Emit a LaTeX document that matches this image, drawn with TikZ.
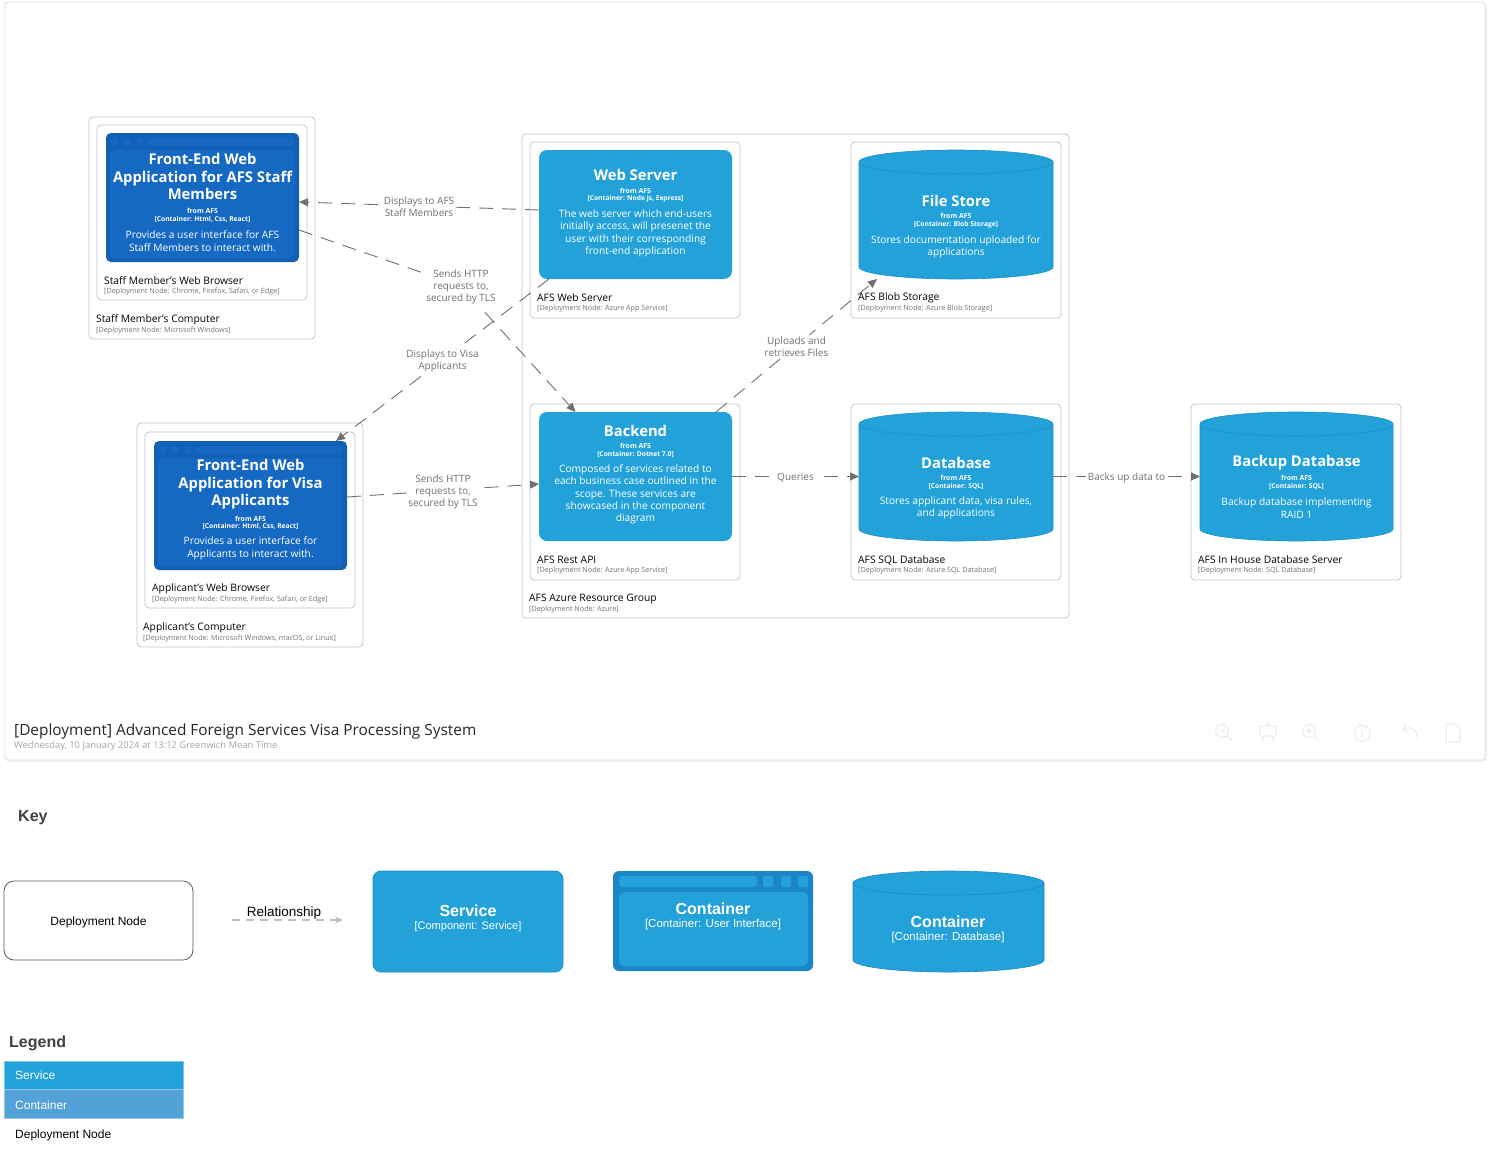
\documentclass[tikz,border=0pt]{standalone}
\usepackage{fontspec}
\setmainfont{Open Sans}
\newfontfamily\keyfont{Liberation Sans}
\usetikzlibrary{arrows.meta,calc}

\definecolor{svc}{HTML}{23A2D9}
\definecolor{svcedge}{HTML}{1C8FC6}
\definecolor{uiouter}{HTML}{1060B6}
\definecolor{uiinner}{HTML}{1669C3}
\definecolor{keyuiouter}{HTML}{1A86C8}
\definecolor{dnline}{HTML}{C6C6C6}
\definecolor{relcol}{HTML}{707070}
\definecolor{metacol}{HTML}{7A7070}
\definecolor{legcont}{HTML}{52A2D8}
\definecolor{faint}{HTML}{EDEDED}

\tikzset{
  dnode/.style={draw=dnline, line width=0.8pt, rounded corners=4pt, fill=white,
    inner sep=0pt, outer sep=0pt, anchor=north west},
  box/.style={inner sep=0pt, outer sep=0pt, anchor=north west},
  svcbox/.style={box, fill=svc, rounded corners=8pt},
  dname/.style={anchor=west, inner sep=0pt, yshift=-1pt, font=\fontsize{10.3}{12}\selectfont, text=black},
  dmeta/.style={anchor=west, inner sep=0pt, yshift=-1pt, font=\fontsize{7.2}{8}\selectfont, text=metacol},
  etitle/.style={inner sep=0pt, yshift=-1pt, font=\fontsize{14.8}{17.5}\selectfont\bfseries, text=white, align=center},
  efrom/.style={inner sep=0pt, yshift=-0.5pt, font=\fontsize{6.9}{8}\selectfont\bfseries, text=white},
  etech/.style={inner sep=0pt, yshift=-0.5pt, font=\fontsize{6.7}{8}\selectfont\bfseries, text=white},
  edesc/.style={inner sep=0pt, yshift=-1pt, font=\fontsize{10.2}{12.4}\selectfont, text=white, align=center},
  rel/.style={draw=relcol, line width=0.9pt, dash pattern=on 14pt off 9pt,
    -{Triangle[length=9pt,width=8pt]}},
  rlabel/.style={fill=white, inner sep=1.5pt, yshift=-1pt, text=relcol,
    font=\fontsize{10}{12}\selectfont, align=center},
  keytxt/.style={inner sep=0pt, yshift=-1.5pt, font=\keyfont\fontsize{12}{14}\selectfont},
}

% browser-style container shape: name, top-left x, top-left y
\newcommand\uishape[3]{%
  \node[box, fill=uiouter, rounded corners=5pt, minimum width=193pt, minimum height=129pt] (#1) at (#2,#3) {};
  \fill[uiinner] ({#2+8.3},{#3+9}) circle[radius=4pt];
  \fill[uiinner] ({#2+21.3},{#3+9}) circle[radius=4pt];
  \fill[uiinner] ({#2+34.3},{#3+9}) circle[radius=4pt];
  \fill[uiinner, rounded corners=4pt] ({#2+42},{#3+5}) rectangle ({#2+188},{#3+13});
  \fill[uiinner, rounded corners=4pt] ({#2+4},{#3+17}) rectangle ({#2+189},{#3+125});
}

% database cylinder: x1, y1, x2, y2, x radius, fill, outline
\newcommand\cylpath[7]{%
  \filldraw[fill=#6, draw=#7, line width=0.6pt] (#1,{#2+12}) -- (#1,{#4-12})
    arc[start angle=180,end angle=360,x radius=#5pt,y radius=12pt]
    -- (#3,{#2+12})
    arc[start angle=0,end angle=180,x radius=#5pt,y radius=12pt] -- cycle;
  \draw[#7, line width=0.6pt] (#1,{#2+12})
    arc[start angle=180,end angle=360,x radius=#5pt,y radius=12pt];
}

\begin{document}
\begin{tikzpicture}[x=1pt,y=-1pt]
\useasboundingbox (0,0) rectangle (1489,1154);
\fill[white] (0,0) rectangle (1489,1154);

% ---------- diagram frame ----------
\fill[black!6, rounded corners=3pt] (6,4) rectangle (1487,762);
\filldraw[fill=white, draw=black!14, line width=0.7pt, rounded corners=3pt] (5,2) rectangle (1485,760);

% ---------- deployment nodes ----------
\node[dnode, minimum width=226pt, minimum height=222pt] (staffpc) at (89,117) {};
\node[dnode, minimum width=210pt, minimum height=175pt] (staffbr) at (97,125) {};
\node[dname] at (96,319) {Staff Member's Computer};
\node[dmeta] at (96,330) {[Deployment Node: Microsoft Windows]};
\node[dname] at (104,280) {Staff Member's Web Browser};
\node[dmeta] at (104,291) {[Deployment Node: Chrome, Firefox, Safari, or Edge]};

\node[dnode, minimum width=226pt, minimum height=224pt] (apppc) at (137,423) {};
\node[dnode, minimum width=210pt, minimum height=176pt] (appbr) at (145,432) {};
\node[dname] at (143,627) {Applicant's Computer};
\node[dmeta] at (143,638) {[Deployment Node: Microsoft Windows, macOS, or Linux]};
\node[dname] at (152,588) {Applicant's Web Browser};
\node[dmeta] at (152,599) {[Deployment Node: Chrome, Firefox, Safari, or Edge]};

\node[dnode, minimum width=547pt, minimum height=484pt] (azure) at (522,134) {};
\node[dname] at (529,598) {AFS Azure Resource Group};
\node[dmeta] at (529,609) {[Deployment Node: Azure]};

\node[dnode, minimum width=210pt, minimum height=176pt] (websrv) at (530,142) {};
\node[dname] at (537,297) {AFS Web Server};
\node[dmeta] at (537,308) {[Deployment Node: Azure App Service]};

\node[dnode, minimum width=210pt, minimum height=176pt] (blob) at (851,142) {};
\node[dname] at (858,297) {AFS Blob Storage};
\node[dmeta] at (858,308) {[Deployment Node: Azure Blob Storage]};

\node[dnode, minimum width=210pt, minimum height=176pt] (restapi) at (530,404) {};
\node[dname] at (537,559) {AFS Rest API};
\node[dmeta] at (537,570) {[Deployment Node: Azure App Service]};

\node[dnode, minimum width=210pt, minimum height=176pt] (sqldb) at (851,404) {};
\node[dname] at (858,559) {AFS SQL Database};
\node[dmeta] at (858,570) {[Deployment Node: Azure SQL Database]};

\node[dnode, minimum width=210pt, minimum height=176pt] (inhouse) at (1191,404) {};
\node[dname] at (1198,559) {AFS In House Database Server};
\node[dmeta] at (1198,570) {[Deployment Node: SQL Database]};

% ---------- containers ----------
\uishape{staffui}{106}{133}
\node[etitle] at (202.5,175.5) {Front-End Web\\Application for AFS Staff\\Members};
\node[efrom] at (202.5,210) {from AFS};
\node[etech] at (202.5,219) {[Container: Html, Css, React]};
\node[edesc] at (202.5,240) {Provides a user interface for AFS\\Staff Members to interact with.};

\uishape{appui}{154}{441}
\node[etitle] at (250.5,483.5) {Front-End Web\\Application for Visa\\Applicants};
\node[efrom] at (250.5,518) {from AFS};
\node[etech] at (250.5,526) {[Container: Html, Css, React]};
\node[edesc] at (250.5,547.5) {Provides a user interface for\\Applicants to interact with.};

\node[svcbox, minimum width=193pt, minimum height=129pt] (web) at (539,150) {};
\node[etitle] at (635.5,174) {Web Server};
\node[efrom] at (635.5,190) {from AFS};
\node[etech] at (635.5,198) {[Container: Node js, Express]};
\node[edesc] at (635.5,232.5) {The web server which end-users\\initially access, will presenet the\\user with their corresponding\\front-end application};

\node[svcbox, minimum width=193pt, minimum height=129pt] (backend) at (539,412) {};
\node[etitle] at (635.5,430) {Backend};
\node[efrom] at (635.5,445) {from AFS};
\node[etech] at (635.5,454) {[Container: Dotnet 7.0]};
\node[edesc] at (635.5,493.5) {Composed of services related to\\each business case outlined in the\\scope. These services are\\showcased in the component\\diagram};

\node[box, minimum width=194pt, minimum height=129pt] (files) at (859,150) {};
\cylpath{859}{150}{1053}{279}{97}{svc}{svcedge}
\node[etitle] at (956,200) {File Store};
\node[efrom] at (956,215) {from AFS};
\node[etech] at (956,224) {[Container: Blob Storage]};
\node[edesc] at (956,246) {Stores documentation uploaded for\\applications};

\node[box, minimum width=194pt, minimum height=129pt] (db) at (859,412) {};
\cylpath{859}{412}{1053}{541}{97}{svc}{svcedge}
\node[etitle] at (956,462) {Database};
\node[efrom] at (956,477) {from AFS};
\node[etech] at (956,486) {[Container: SQL]};
\node[edesc] at (956,507) {Stores applicant data, visa rules,\\and applications};

\node[box, minimum width=193pt, minimum height=129pt] (backup) at (1200,412) {};
\cylpath{1200}{412}{1393}{541}{96.5}{svc}{svcedge}
\node[etitle] at (1296.5,462) {Backup Database};
\node[efrom] at (1296.5,477) {from AFS};
\node[etech] at (1296.5,486) {[Container: SQL]};
\node[edesc] at (1296.5,507) {Backup database implementing\\RAID 1};

% ---------- relationships ----------
\coordinate (bend) at (461,286);
\draw[rel] ([yshift=4.5pt]web.west) -- node[rlabel] {Displays to AFS\\Staff Members} ([yshift=-4.5pt]staffui.east);
\draw[rel] ([yshift=-32.5pt]staffui.east) -- (bend) -- ([xshift=-60pt]backend.north);
\node[rlabel] at (bend) {Sends HTTP\\requests to,\\secured by TLS};
\draw[rel] ([xshift=-86.5pt]web.south) -- node[rlabel] {Displays to Visa\\Applicants} ([xshift=85.5pt]appui.north);
\draw[rel] ([yshift=8.5pt]appui.east) -- node[rlabel] {Sends HTTP\\requests to,\\secured by TLS} ([yshift=-7.5pt]backend.west);
\draw[rel] ([xshift=80.5pt]backend.north) -- node[rlabel] {Uploads and\\retrieves Files} ([xshift=-79pt]files.south);
\draw[rel] (backend.east) -- node[rlabel] {Queries} (db.west);
\draw[rel] (db.east) -- node[rlabel] {Backs up data to} (backup.west);

% ---------- title ----------
\node[anchor=west, inner sep=0pt, font=\fontsize{15.4}{18}\selectfont, text=black!85] at (14,731)
  {[Deployment] Advanced Foreign Services Visa Processing System};
\node[anchor=west, inner sep=0pt, font=\fontsize{9.4}{11}\selectfont, text=black!35] at (14,746.5)
  {Wednesday, 10 January 2024 at 13:12 Greenwich Mean Time};

% ---------- viewer toolbar ----------
\begin{scope}[draw=faint, line width=1.2pt]
  \draw (1222,731) circle[radius=6.5pt] (1226.5,735.5) -- (1232,741) (1218.5,731) -- (1225.5,731);
  \draw (1260,726) rectangle (1276,736) (1264,736) -- (1262,741) (1272,736) -- (1274,741) (1268,722) -- (1268,726);
  \draw (1309,731) circle[radius=6.5pt] (1313.5,735.5) -- (1319,741) (1305.5,731) -- (1312.5,731) (1309,727.5) -- (1309,734.5);
  \draw (1362,733) circle[radius=8pt] (1362,730) -- (1362,738);
  \draw (1417,738) .. controls (1417,728) and (1410,726) .. (1403,729) (1403,729) -- (1406,724) (1403,729) -- (1408,732);
  \draw (1446,724) -- (1455,724) -- (1460,729) -- (1460,742) -- (1446,742) -- cycle;
\end{scope}

% ---------- key ----------
\node[anchor=west, inner sep=0pt, font=\keyfont\fontsize{16}{18}\selectfont\bfseries, text=black!75] at (18,818) {Key};

\node[box, draw=black!65, line width=0.8pt, rounded corners=10pt, minimum width=189pt, minimum height=79pt] (kdn) at (4,881) {};
\node[keytxt] at (kdn.center) {Deployment Node};

\coordinate (krelA) at (232,920);
\coordinate (krelB) at (343,920);
\draw[draw=black!25, line width=1.4pt, dash pattern=on 8pt off 6pt, -{Stealth[length=8pt,width=7pt]}] (krelA) -- (krelB);
\node[keytxt, font=\keyfont\fontsize{13.5}{15}\selectfont] at (284,911) {Relationship};

\node[box, fill=svc, draw=svcedge, line width=0.8pt, rounded corners=8pt, minimum width=190pt, minimum height=101pt] (ksvc) at (373,871) {};
\node[keytxt, text=white, font=\keyfont\fontsize{16}{18}\selectfont\bfseries] at (468,909) {Service};
\node[keytxt, text=white, font=\keyfont\fontsize{11}{13}\selectfont] at (468,925) {[Component: Service]};

\node[box, fill=keyuiouter, rounded corners=6pt, minimum width=200pt, minimum height=100pt] (kui) at (613,871) {};
\fill[svc, rounded corners=3pt] (619,876) rectangle (757,887);
\fill[svc, rounded corners=2pt] (763,876) rectangle (773,887);
\fill[svc, rounded corners=2pt] (781,876) rectangle (791,887);
\fill[svc, rounded corners=2pt] (798,876) rectangle (808,887);
\fill[svc, rounded corners=5pt] (619,892) rectangle (808,966);
\node[keytxt, text=white, font=\keyfont\fontsize{16}{18}\selectfont\bfseries] at (713,907) {Container};
\node[keytxt, text=white, font=\keyfont\fontsize{11.5}{13}\selectfont] at (713,923) {[Container: User Interface]};

\node[box, minimum width=191pt, minimum height=101pt] (kdb) at (853,871) {};
\cylpath{853}{871}{1044}{972}{95.5}{svc}{keyuiouter}
\node[keytxt, text=white, font=\keyfont\fontsize{16}{18}\selectfont\bfseries] at (948,920) {Container};
\node[keytxt, text=white, font=\keyfont\fontsize{11.5}{13}\selectfont] at (948,936) {[Container: Database]};

% ---------- legend ----------
\node[anchor=west, inner sep=0pt, font=\keyfont\fontsize{16}{18}\selectfont\bfseries, text=black!75] at (9,1043.5) {Legend};
\node[box, fill=svc, draw=svc!60, line width=0.6pt, minimum width=179pt, minimum height=28pt] (lsvc) at (4,1061) {};
\node[keytxt, anchor=west, text=white] at (15,1074) {Service};
\node[box, fill=legcont, draw=legcont!60, line width=0.6pt, minimum width=179pt, minimum height=29pt] (lcont) at (4,1089) {};
\node[keytxt, anchor=west, text=white] at (15,1104) {Container};
\node[keytxt, anchor=west, text=black] at (15,1134) {Deployment Node};

\end{tikzpicture}
\end{document}
